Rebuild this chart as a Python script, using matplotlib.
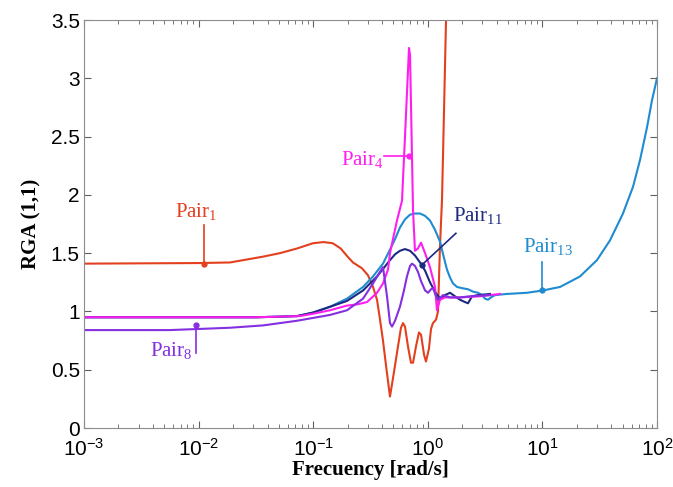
import matplotlib
matplotlib.use("Agg")
import matplotlib.pyplot as plt
import numpy as np

plt.rcParams['font.family'] = ['Liberation Sans', 'DejaVu Sans']
plt.rcParams['mathtext.fontset'] = 'custom'
plt.rcParams['mathtext.rm'] = 'Liberation Serif'

# log10 of frequency [rad/s] and RGA(1,1) values
pair1_lw = [-3.0, -2.0, -1.726, -1.438, -1.29, -1.141, -1.002, -0.91, -0.83, -0.76, -0.70, -0.653,
            -0.574, -0.522, -0.478, -0.443, -0.417, -0.391, -0.36, -0.33,
            -0.30, -0.26, -0.234, -0.216, -0.199, -0.173, -0.147, -0.129, -0.103, -0.077,
            -0.059, -0.033, -0.016, 0.01, 0.028, 0.045, 0.072, 0.089, 0.106, 0.124, 0.141,
            0.159, 0.168]
pair1_val = [1.41, 1.415, 1.42, 1.47, 1.50, 1.54, 1.585, 1.595, 1.585, 1.54, 1.47, 1.42,
             1.37, 1.31, 1.21, 1.10, 0.93, 0.75, 0.50, 0.27,
             0.45, 0.70, 0.86, 0.90, 0.87, 0.70, 0.56, 0.56, 0.70, 0.82,
             0.80, 0.63, 0.57, 0.68, 0.85, 0.90, 0.93, 1.00, 1.55, 1.96, 2.70,
             3.50, 3.80]

pair4_lw = [-3.0, -1.5, -1.115, -1.002, -0.853, -0.705, -0.618, -0.531, -0.443, -0.391, -0.347,
            -0.33, -0.304, -0.269, -0.225, -0.199, -0.164, -0.155, -0.129, -0.112, -0.086,
            -0.059, -0.024, 0.019, 0.063, 0.080, 0.106, 0.150, 0.281, 0.456, 0.63]
pair4_val = [0.95, 0.95, 0.96, 0.98, 1.01, 1.05, 1.06, 1.08, 1.16, 1.24, 1.36,
             1.50, 1.62, 1.78, 1.95, 2.50, 3.26, 3.20, 1.87, 1.52, 1.54,
             1.59, 1.50, 1.38, 1.21, 1.01, 1.10, 1.12, 1.12, 1.13, 1.15]

pair8_lw = [-3.0, -2.25, -1.726, -1.438, -1.141, -0.853, -0.705, -0.565, -0.478, -0.417, -0.391,
            -0.356, -0.33, -0.312, -0.286, -0.243, -0.208, -0.182, -0.155, -0.138, -0.112,
            -0.086, -0.059, -0.024, 0.002, 0.028, 0.045, 0.072, 0.089, 0.133, 0.194, 0.281,
            0.368, 0.543]
pair8_val = [0.84, 0.84, 0.86, 0.88, 0.92, 0.97, 1.01, 1.11, 1.24, 1.34, 1.38,
             1.13, 0.90, 0.87, 0.92, 1.04, 1.18, 1.30, 1.39, 1.41, 1.39,
             1.34, 1.26, 1.18, 1.16, 1.19, 1.20, 1.13, 1.10, 1.14, 1.12, 1.12,
             1.13, 1.14]

pair11_lw = [-3.0, -1.5, -1.3, -1.141, -1.002, -0.853, -0.705, -0.565, -0.443, -0.33, -0.286,
             -0.243, -0.199, -0.155, -0.112, -0.068, -0.024, 0.019, 0.063, 0.106, 0.150,
             0.194, 0.237, 0.281, 0.325, 0.351, 0.386, 0.438, 0.543]
pair11_val = [0.95, 0.95, 0.955, 0.96, 0.99, 1.04, 1.09, 1.18, 1.30, 1.44, 1.49,
              1.52, 1.535, 1.52, 1.48, 1.42, 1.35, 1.25, 1.17, 1.11, 1.14,
              1.16, 1.13, 1.10, 1.08, 1.07, 1.13, 1.14, 1.15]

pair13_lw = [-3.0, -1.5, -1.3, -1.141, -1.002, -0.853, -0.705, -0.565, -0.478, -0.391, -0.33,
             -0.286, -0.243, -0.199, -0.155, -0.112, -0.068, -0.024, 0.019, 0.063, 0.106,
             0.141, 0.167, 0.194, 0.220, 0.255, 0.298, 0.351, 0.394, 0.438, 0.473, 0.499,
             0.525, 0.551, 0.586, 0.691, 0.866, 1.005, 1.154, 1.328, 1.476, 1.590, 1.703,
             1.791, 1.852, 1.913, 1.956, 2.0]
pair13_val = [0.95, 0.95, 0.955, 0.96, 0.99, 1.04, 1.11, 1.21, 1.30, 1.41, 1.53,
              1.62, 1.72, 1.79, 1.83, 1.84, 1.84, 1.82, 1.78, 1.70, 1.60,
              1.46, 1.36, 1.29, 1.24, 1.21, 1.20, 1.19, 1.17, 1.16, 1.14, 1.11,
              1.10, 1.12, 1.14, 1.15, 1.16, 1.18, 1.21, 1.30, 1.44, 1.61, 1.84,
              2.07, 2.30, 2.58, 2.81, 3.00]

series = [
    (pair1_lw, pair1_val, '#e2401e'),
    (pair13_lw, pair13_val, '#1f8bd0'),
    (pair11_lw, pair11_val, '#1c2a82'),
    (pair4_lw, pair4_val, '#ff1ef0'),
    (pair8_lw, pair8_val, '#8430e0'),
]

fig = plt.figure(figsize=(6.73, 4.87), dpi=100)
ax = fig.add_axes([84 / 673, 1 - 428 / 487, 573 / 673, 408 / 487])

for lw_, val, col in series:
    ax.plot(10 ** np.array(lw_), val, color=col, lw=1.5)

ax.set_xscale('log')
ax.set_xlim(1e-3, 1e2)
ax.set_ylim(0, 3.5)
ax.set_yticks([0, 0.5, 1, 1.5, 2, 2.5, 3, 3.5])
ax.set_yticklabels(['0', '0.5', '1', '1.5', '2', '2.5', '3', '3.5'])

for s in ax.spines.values():
    s.set_color('#8c8c8c')
ax.tick_params(which='both', direction='in', top=True, right=True, color='#606060',
               labelsize=15)
ax.tick_params(axis='y', pad=3)
ax.tick_params(axis='x', pad=7)
ax.tick_params(which='major', length=5)
ax.tick_params(which='minor', length=3)

ax.set_xlabel('Frecuency [rad/s]', family='Liberation Serif', fontweight='bold', fontsize=15, labelpad=0)
ax.set_ylabel('RGA (1,1)', family='Liberation Serif', fontweight='bold', fontsize=15, labelpad=7)

def tag(text, col, tx, ty, x0, y0, x1, y1, ha='center'):
    # label text and leader line with a dot on the curve (positions in data units)
    ax.text(tx, ty, text, color=col, fontsize=15, ha=ha, va='center', family='Liberation Serif')
    ax.plot([x0, x1], [y0, y1], color=col, lw=1.2)
    ax.plot([x1], [y1], 'o', color=col, ms=3.5)

tag(r'Pair$_{1}$', '#e2401e', 10 ** -2.02, 1.85, 10 ** -1.95, 1.74, 10 ** -1.95, 1.41)
tag(r'Pair$_{4}$', '#ff1ef0', 10 ** -0.38, 2.30, 10 ** -0.38, 2.33, 10 ** -0.165, 2.33, ha='right')
tag(r'Pair$_{8}$', '#8430e0', 10 ** -2.05, 0.66, 10 ** -2.02, 0.64, 10 ** -2.02, 0.88, ha='right')
tag(r'Pair$_{11}$', '#1c2a82', 10 ** 0.22, 1.82, 10 ** 0.245, 1.67, 10 ** -0.05, 1.40, ha='left')
tag(r'Pair$_{13}$', '#1f8bd0', 10 ** 0.83, 1.55, 10 ** 1.0, 1.42, 10 ** 1.0, 1.18, ha='left')

fig.savefig('out.png', dpi=100)
